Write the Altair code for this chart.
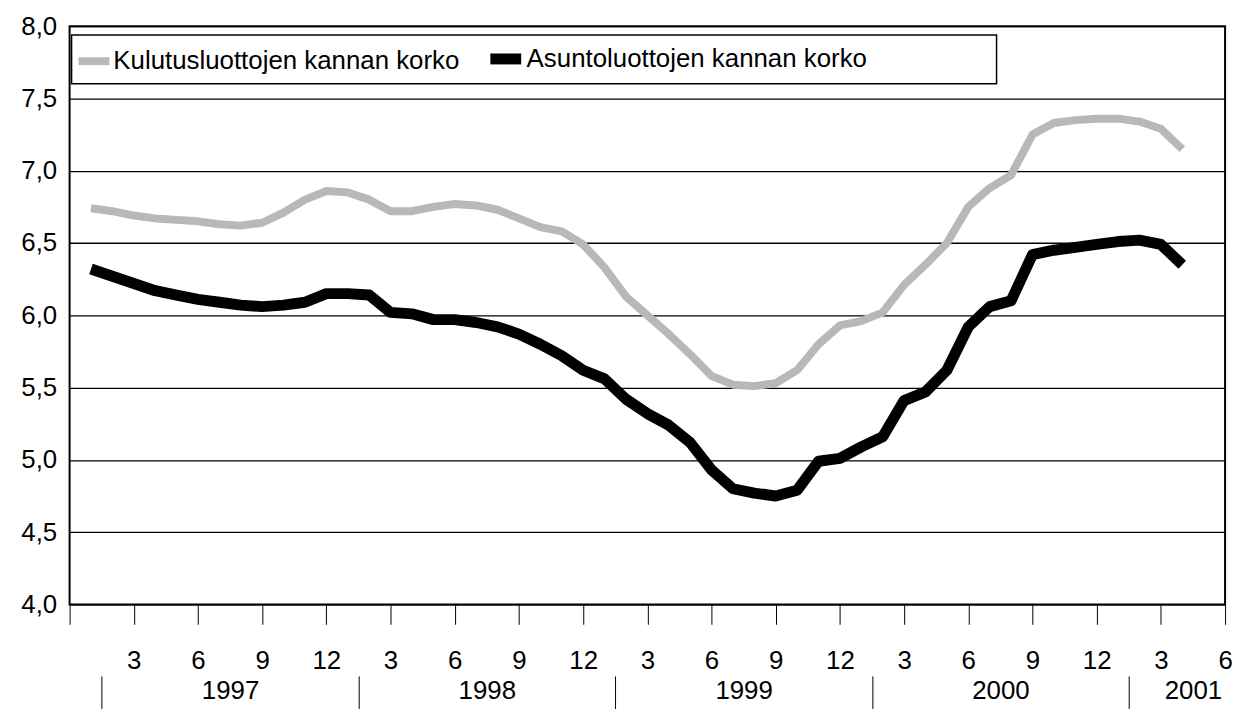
import altair as alt
import pandas as pd

FONT = "Liberation Sans, Arial, sans-serif"

series_names = ["Kulutusluottojen kannan korko", "Asuntoluottojen kannan korko"]
series_colors = ["#b8b8b8", "#000000"]
series_widths = [8, 11]

# month index: 1 = Jan 1997 ... 52 = Apr 2001
months = list(range(1, 53))
kulutus = [6.74, 6.72, 6.69, 6.67, 6.66, 6.65, 6.63, 6.62, 6.64, 6.71,
           6.80, 6.86, 6.85, 6.80, 6.72, 6.72, 6.75, 6.77, 6.76, 6.73,
           6.67, 6.61, 6.58, 6.49, 6.33, 6.13, 6.00, 5.87, 5.73, 5.58,
           5.52, 5.51, 5.53, 5.62, 5.80, 5.93, 5.96, 6.02, 6.21, 6.35,
           6.50, 6.75, 6.88, 6.97, 7.25, 7.33, 7.35, 7.36, 7.36, 7.34,
           7.29, 7.15]
asunto = [6.32, 6.27, 6.22, 6.17, 6.14, 6.11, 6.09, 6.07, 6.06, 6.07,
          6.09, 6.15, 6.15, 6.14, 6.02, 6.01, 5.97, 5.97, 5.95, 5.92,
          5.87, 5.80, 5.72, 5.62, 5.56, 5.42, 5.32, 5.24, 5.12, 4.93,
          4.80, 4.77, 4.75, 4.79, 4.99, 5.01, 5.09, 5.16, 5.41, 5.47,
          5.62, 5.92, 6.06, 6.10, 6.42, 6.45, 6.47, 6.49, 6.51, 6.52,
          6.49, 6.35]

month_ticks = list(range(0, 55, 3))
y_ticks = [4.0, 4.5, 5.0, 5.5, 6.0, 6.5, 7.0, 7.5, 8.0]
years = [1997, 1998, 1999, 2000, 2001]

df = pd.DataFrame({
    "m": months * 2,
    "v": kulutus + asunto,
    "s": [series_names[0]] * len(months) + [series_names[1]] * len(months),
})

year_start = [(y - 1997) * 12 + 1.5 for y in years]
year_mid = [s + 6 for s in year_start[:-1]] + [(year_start[-1] + 55.5) / 2]
ydf = pd.DataFrame({"year": years, "start": year_start, "mid": year_mid})

xscale = alt.Scale(domain=[0, 54], nice=False, zero=False)

leg = alt.Legend(
    orient="none", legendX=2, legendY=9, direction="horizontal",
    title="\u00a0", titleOrient="right", titlePadding=127, titleFontSize=8,
    strokeColor="black", fillColor="white", padding=3,
    labelFontSize=26, labelFont=FONT, labelColor="black", labelLimit=600,
    symbolType="stroke", symbolSize=961, columnPadding=8, labelOffset=0,
)

lines = alt.Chart(df).mark_line(strokeJoin="round").encode(
    x=alt.X("m:Q", scale=xscale, axis=alt.Axis(
        values=month_ticks, orient="bottom", title=None, grid=False, domain=False,
        ticks=True, tickSize=20, tickColor="black", tickWidth=1,
        labelPadding=24, labelFontSize=26, labelFont=FONT, labelColor="black",
        labelFlush=False, labelOverlap=False, labelAngle=0,
        labelExpr="datum.value == 0 ? '' : ((datum.value % 12) == 0 ? '12' : '' + (datum.value % 12))",
    )),
    y=alt.Y("v:Q", scale=alt.Scale(domain=[4, 8], nice=False, zero=False), axis=alt.Axis(
        values=y_ticks, title=None, grid=True, gridColor="black", gridWidth=1.3,
        domain=False, ticks=False, labelPadding=13, labelFontSize=26, labelFont=FONT,
        labelColor="black", labelOverlap=False,
        labelExpr="replace(format(datum.value, '.1f'), '.', ',')",
    )),
    color=alt.Color("s:N", scale=alt.Scale(domain=series_names, range=series_colors), legend=leg),
    strokeWidth=alt.StrokeWidth("s:N", scale=alt.Scale(domain=series_names, range=series_widths), legend=leg),
)

seps = alt.Chart(ydf).mark_point(opacity=0, size=0).encode(
    x=alt.X("start:Q", scale=xscale, axis=alt.Axis(
        values=year_start, orient="bottom", offset=72, title=None, grid=False,
        domain=False, labels=False, ticks=True, tickSize=40, tickColor="black", tickWidth=1,
    ))
)

ylabels = alt.Chart(ydf).mark_point(opacity=0, size=0).encode(
    x=alt.X("mid:Q", scale=xscale, axis=alt.Axis(
        values=year_mid, orient="bottom", offset=70, title=None, grid=False,
        domain=False, ticks=False, tickSize=0, labelPadding=4,
        labelFontSize=26, labelFont=FONT, labelColor="black",
        labelFlush=False, labelOverlap=False, labelAngle=0,
        labelExpr="'' + (1997 + floor(datum.value / 12))",
    ))
)

chart = alt.layer(lines, seps, ylabels).resolve_axis(x="independent").properties(
    width=1163, height=582,
    autosize=alt.AutoSizeParams(type="none"),
    padding={"left": 62, "top": 16, "right": 11, "bottom": 103},
).configure_view(stroke="black", strokeWidth=2).configure_legend(strokeWidth=1.5)

chart.save("out.html", embed_options={"renderer": "svg", "actions": False})
